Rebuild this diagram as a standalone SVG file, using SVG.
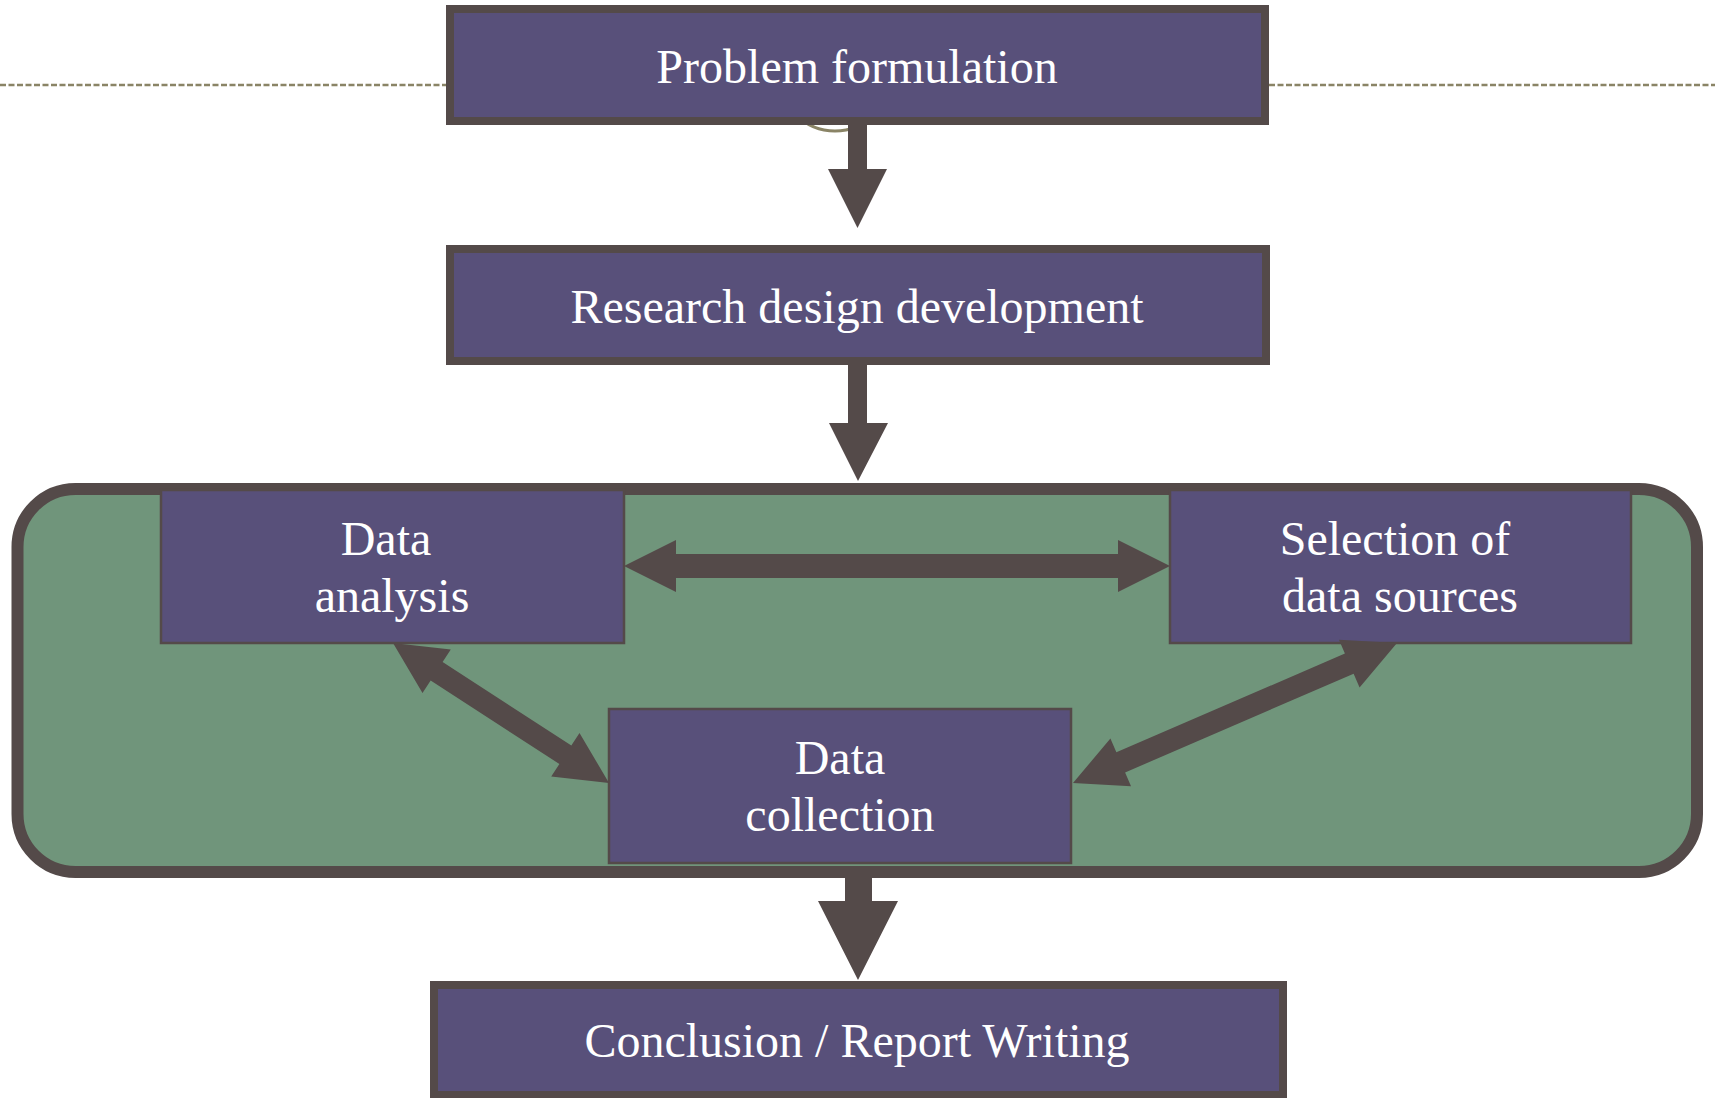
<svg xmlns="http://www.w3.org/2000/svg" width="1715" height="1098" viewBox="0 0 1715 1098">
<style>
.box{fill:#58507a;stroke:#544a49;stroke-width:8}
.inner{fill:#58507a;stroke:#544a49;stroke-width:2.5}
.lbl{font-family:"Liberation Serif","Times New Roman",serif;font-size:48px;fill:#ffffff;text-anchor:middle}
.arr{fill:#544a49}
</style>
<rect width="1715" height="1098" fill="#ffffff"/>
<g id="guide">
<line x1="0" y1="85" x2="446" y2="85" stroke="#8a8466" stroke-width="2.5" stroke-dasharray="6 2.5"/>
<line x1="1269" y1="85" x2="1715" y2="85" stroke="#8a8466" stroke-width="2.5" stroke-dasharray="6 2.5"/>
<circle cx="835" cy="76" r="55" fill="none" stroke="#8a8466" stroke-width="3"/>
</g>
<g id="container">
<rect x="17.5" y="489" width="1679.5" height="383" rx="58" ry="58" fill="#70957b" stroke="#544a49" stroke-width="12"/>
</g>
<g id="n1">
<rect class="box" x="450" y="9" width="815" height="112"/>
<text class="lbl" x="857" y="83">Problem formulation</text>
</g>
<g id="n2">
<rect class="box" x="450" y="249" width="816" height="112"/>
<text class="lbl" x="857" y="323">Research design development</text>
</g>
<g id="n3">
<rect class="inner" x="161" y="490" width="463" height="153"/>
<text class="lbl" x="386" y="555">Data</text>
<text class="lbl" x="392" y="612">analysis</text>
</g>
<g id="n4">
<rect class="inner" x="1170" y="490" width="461" height="153"/>
<text class="lbl" x="1395" y="555">Selection of</text>
<text class="lbl" x="1400" y="612">data sources</text>
</g>
<g id="n5">
<rect class="inner" x="609" y="709" width="462" height="154"/>
<text class="lbl" x="840" y="774">Data</text>
<text class="lbl" x="840" y="831">collection</text>
</g>
<g id="n6">
<rect class="box" x="434" y="985" width="849" height="110"/>
<text class="lbl" x="857" y="1057">Conclusion / Report Writing</text>
</g>
<g id="connectors">
<polygon class="arr" points="848,125 867,125 867,169 887,169 857.5,228 828,169 848,169"/>
<polygon class="arr" points="848,365 867,365 867,423 888,423 858,481 829,423 848,423"/>
<polygon class="arr" points="845,878 872,878 872,901 898,901 858,980 818,901 845,901"/>
<polygon class="arr" points="624,566 676,592 676,578 1118,578 1118,592 1170,566 1118,540 1118,554 676,554 676,540"/>
<polygon class="arr" points="393,643 422.5,693.1 430.66,680.51 559.38,763.95 551.22,776.54 609,783 579.5,732.9 571.34,745.49 442.62,662.05 450.78,649.46"/>
<polygon class="arr" points="1397,643 1338.96,639.75 1344.91,653.52 1116.37,752.28 1110.42,738.51 1073,783 1131.04,786.25 1125.09,772.48 1353.63,673.72 1359.58,687.49"/>
</g>
</svg>
